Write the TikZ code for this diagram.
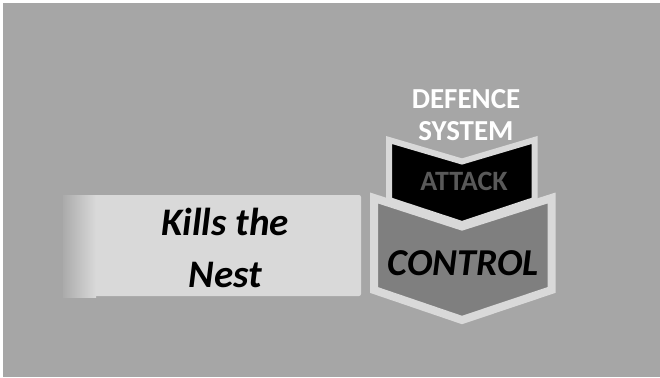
\documentclass[tikz,border=0pt]{standalone}
\usepackage{fontspec}
\setmainfont{Carlito}
\usetikzlibrary{shadings}
\definecolor{bg}{HTML}{A6A6A6}
\definecolor{lite}{HTML}{D9D9D9}
\definecolor{midgray}{HTML}{7F7F7F}
\definecolor{atk}{HTML}{595959}
\tikzset{
  lbl/.style={font=\bfseries\itshape\fontsize{39}{52}\selectfont, text=black, align=center, inner sep=0pt},
  head/.style={font=\bfseries\fontsize{29}{32}\selectfont, text=white, align=center, inner sep=0pt},
}
\begin{document}
\begin{tikzpicture}[x=1pt,y=-1pt]
\useasboundingbox (0,0) rectangle (660,377);
\fill[white] (0,0) rectangle (660,377);
\fill[bg] (3,3) rectangle (660,377);
% Kills the Nest box
\fill[lite, rounded corners=2pt] (90,195) rectangle (361,296);
\shade[left color=bg!90!lite, right color=lite] (63,195) rectangle (96,297);
\node[lbl] (kill) at (225,248) {Kills the\\Nest};
% upper chevron (ATTACK)
\draw[fill=black, draw=lite, line width=6pt, miter limit=10]
  (389,140) -- (462,161.5) -- (534.5,140) -- (534.5,200) -- (462,224) -- (389,200) -- cycle;
\node[font=\bfseries\fontsize{28}{32}\selectfont, text=atk, inner sep=0pt] (atk) at (464,181) {ATTACK};
% lower chevron (CONTROL)
\draw[fill=midgray, draw=lite, line width=8pt, miter limit=10]
  (374,198) -- (462,226.5) -- (551.5,198) -- (551.5,290) -- (462,320) -- (374,290) -- cycle;
\node[lbl, font=\bfseries\itshape\fontsize{38}{52}\selectfont] (ctl) at (463.5,263.5) {CONTROL};
% heading
\node[head] (def) at (466,115) {DEFENCE\\SYSTEM};
\end{tikzpicture}
\end{document}
